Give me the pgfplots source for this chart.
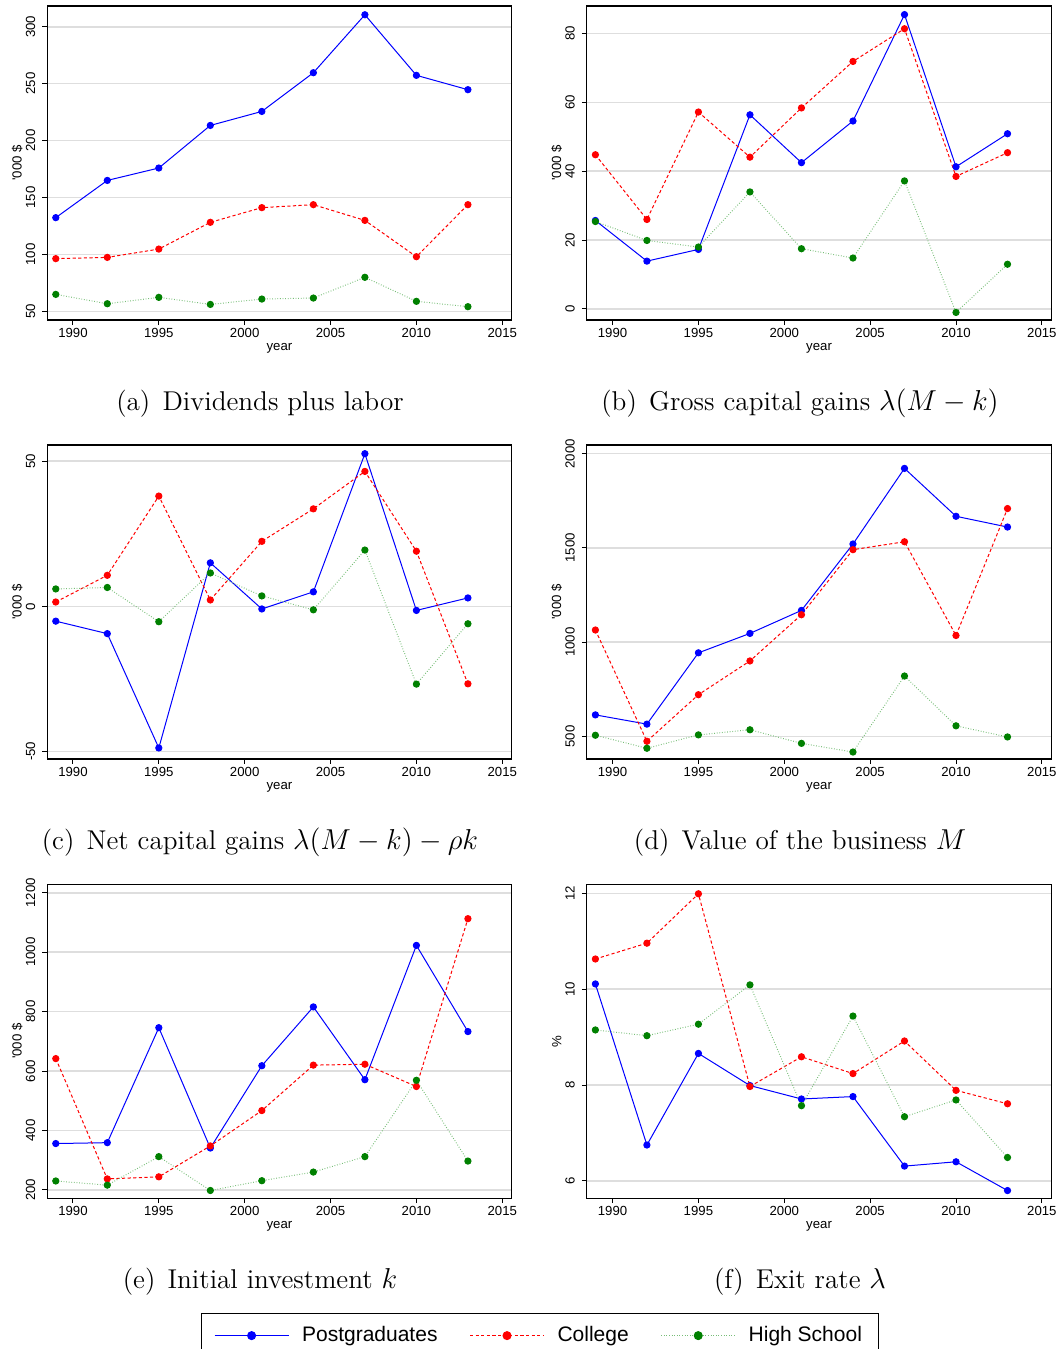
\documentclass[border=0pt]{standalone}
\usepackage{fontspec}
\newfontfamily\hv{Liberation Sans}
\usepackage{pgfplots}
\pgfplotsset{compat=1.18}

\definecolor{pblue}{RGB}{0,0,255}
\definecolor{pred}{RGB}{255,0,0}
\definecolor{pgreen}{RGB}{0,128,0}
\definecolor{pgreenline}{RGB}{120,190,120}
\definecolor{gridgray}{RGB}{222,222,222}

\pgfplotsset{
  panel/.style={
    width=232.25pt, height=157pt, scale only axis,
    anchor=north west,
    xmin=1988.5, xmax=2015.55,
    xtick={1990,1995,2000,2005,2010,2015},
    axis line style={line width=0.6pt},
    tick style={black, line width=0.5pt},
    major tick length=2.5pt,
    tick align=outside,
    xtick pos=bottom, ytick pos=left,
    ymajorgrids, grid style={gridgray, line width=0.8pt},
    tick label style={font=\hv\fontsize{6.6}{7}\selectfont},
    label style={font=\hv\fontsize{6.6}{7}\selectfont},
    /pgf/number format/assume math mode=true,
    /pgf/number format/1000 sep={},
    yticklabel style={rotate=90, anchor=south},
    xticklabel style={yshift=1.8pt},
    xlabel={year},
    ylabel={'000 \$},
    xlabel style={at={([yshift=-14pt]axis description cs:0.5,0)}, anchor=center},
    ylabel style={at={([xshift=-15pt]axis description cs:0,0.5)}, anchor=center},
    clip=false,
  },
  pg/.style={pblue, line width=0.5pt, solid, mark=*, mark size=1.55pt,
    mark options={solid, fill=pblue, draw=pblue}},
  co/.style={pred, line width=0.5pt, dash pattern=on 1.6pt off 1.2pt, mark=*, mark size=1.55pt,
    mark options={solid, fill=pred, draw=pred}},
  hs/.style={pgreenline, line width=0.5pt, dash pattern=on 0.4pt off 0.9pt, mark=*, mark size=1.55pt,
    mark options={solid, fill=pgreen, draw=pgreen}},
}

\newcommand{\capfont}{\fontsize{13.6}{16}\selectfont}

\begin{document}
\begin{tikzpicture}

% (a) Dividends plus labor
\begin{axis}[panel, at={(23.6pt,-3pt)}, ymin=42.4, ymax=318.2, ytick={50,100,150,200,250,300}]
\addplot[pg] coordinates {(1989,132.3) (1992,165) (1995,175.9) (1998,213.3) (2001,225.6) (2004,259.6) (2007,310.5) (2010,257.3) (2013,244.7)};
\addplot[co] coordinates {(1989,96.3) (1992,97.4) (1995,104.7) (1998,128.2) (2001,141.1) (2004,143.7) (2007,129.9) (2010,98) (2013,143.7)};
\addplot[hs] coordinates {(1989,64.9) (1992,56.7) (1995,62.3) (1998,56.1) (2001,60.8) (2004,61.7) (2007,79.9) (2010,58.8) (2013,54.1)};
\end{axis}

% (b) Gross capital gains
\begin{axis}[panel, at={(293.4pt,-3pt)}, ymin=-3.2, ymax=88, ytick={0,20,40,60,80}]
\addplot[pg] coordinates {(1989,25.7) (1992,13.9) (1995,17.3) (1998,56.4) (2001,42.5) (2004,54.6) (2007,85.5) (2010,41.3) (2013,50.9)};
\addplot[co] coordinates {(1989,44.8) (1992,26) (1995,57.2) (1998,44.1) (2001,58.4) (2004,71.9) (2007,81.4) (2010,38.5) (2013,45.4)};
\addplot[hs] coordinates {(1989,25.4) (1992,19.9) (1995,18) (1998,34) (2001,17.5) (2004,14.8) (2007,37.2) (2010,-1) (2013,13)};
\end{axis}

% (c) Net capital gains
\begin{axis}[panel, at={(23.6pt,-222.5pt)}, ymin=-52.6, ymax=55.6, ytick={-50,0,50}]
\addplot[pg] coordinates {(1989,-5.1) (1992,-9.4) (1995,-48.8) (1998,15) (2001,-0.9) (2004,5) (2007,52.6) (2010,-1.4) (2013,2.9)};
\addplot[co] coordinates {(1989,1.5) (1992,10.7) (1995,38) (1998,2.2) (2001,22.4) (2004,33.6) (2007,46.5) (2010,19) (2013,-26.7)};
\addplot[hs] coordinates {(1989,6) (1992,6.5) (1995,-5.3) (1998,11.5) (2001,3.6) (2004,-1.2) (2007,19.4) (2010,-26.8) (2013,-6)};
\end{axis}

% (d) Value of the business
\begin{axis}[panel, at={(293.4pt,-222.5pt)}, ymin=381, ymax=2046, ytick={500,1000,1500,2000}]
\addplot[pg] coordinates {(1989,615) (1992,566) (1995,944) (1998,1047) (2001,1169) (2004,1521) (2007,1922) (2010,1668) (2013,1611)};
\addplot[co] coordinates {(1989,1065) (1992,475) (1995,722) (1998,901) (2001,1146) (2004,1491) (2007,1533) (2010,1036) (2013,1709)};
\addplot[hs] coordinates {(1989,507) (1992,438) (1995,509) (1998,536) (2001,464) (2004,418) (2007,821) (2010,557) (2013,498)};
\end{axis}

% (e) Initial investment
\begin{axis}[panel, at={(23.6pt,-442.1pt)}, ymin=172, ymax=1229, ytick={200,400,600,800,1000,1200},
  legend columns=3,
  legend image code/.code={\draw[mark repeat=2, mark phase=2, mark size=2pt] plot coordinates {(0pt,0pt) (18.5pt,0pt) (37pt,0pt)};},
  legend style={at={(1.061,-0.3656)}, anchor=north, draw=black, line width=0.5pt,
    font=\hv\fontsize{10.5}{12}\selectfont, inner xsep=6.5pt, inner ysep=4.5pt,
    /tikz/every odd column/.append style={column sep=4.5pt},
    /tikz/every even column/.append style={column sep=14pt}}]
\addplot[pg] coordinates {(1989,356) (1992,359) (1995,746) (1998,341) (2001,618) (2004,816) (2007,571) (2010,1023) (2013,733)};
\addlegendentry{Postgraduates}
\addplot[co] coordinates {(1989,642) (1992,237) (1995,244) (1998,348) (2001,467) (2004,620) (2007,623) (2010,548) (2013,1113)};
\addlegendentry{College}
\addplot[hs] coordinates {(1989,230) (1992,216) (1995,312) (1998,198) (2001,231) (2004,260) (2007,312) (2010,569) (2013,297)};
\addlegendentry{High School}
\end{axis}

% (f) Exit rate
\begin{axis}[panel, at={(293.4pt,-442.1pt)}, ymin=5.64, ymax=12.19, ytick={6,8,10,12}, ylabel={\%}]
\addplot[pg] coordinates {(1989,10.11) (1992,6.75) (1995,8.66) (1998,7.99) (2001,7.71) (2004,7.76) (2007,6.31) (2010,6.40) (2013,5.80)};
\addplot[co] coordinates {(1989,10.63) (1992,10.96) (1995,11.99) (1998,7.97) (2001,8.59) (2004,8.24) (2007,8.92) (2010,7.89) (2013,7.61)};
\addplot[hs] coordinates {(1989,9.15) (1992,9.03) (1995,9.27) (1998,10.09) (2001,7.57) (2004,9.44) (2007,7.34) (2010,7.69) (2013,6.49)};
\end{axis}

% captions
\node[anchor=base] at (130pt,-205pt) {\capfont (a)\hspace{0.45em}Dividends plus labor};
\node[anchor=base] at (400pt,-205pt) {\capfont (b)\hspace{0.45em}Gross capital gains $\lambda(M-k)$};
\node[anchor=base] at (130pt,-424.5pt) {\capfont (c)\hspace{0.45em}Net capital gains $\lambda(M-k)-\rho k$};
\node[anchor=base] at (400pt,-424.5pt) {\capfont (d)\hspace{0.45em}Value of the business $M$};
\node[anchor=base] at (130pt,-644pt) {\capfont (e)\hspace{0.45em}Initial investment $k$};
\node[anchor=base] at (400pt,-644pt) {\capfont (f)\hspace{0.45em}Exit rate $\lambda$};

\pgfresetboundingbox
\useasboundingbox (0,0) rectangle (531pt,-674.5pt);
\end{tikzpicture}
\end{document}
